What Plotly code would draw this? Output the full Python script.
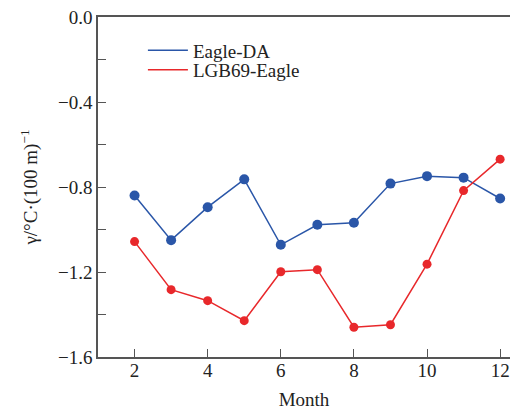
import plotly.graph_objects as go

months = [2, 3, 4, 5, 6, 7, 8, 9, 10, 11, 12]
eagle_da = [-0.84, -1.05, -0.895, -0.764, -1.072, -0.978, -0.968, -0.784, -0.749, -0.756, -0.854]
lgb69_eagle = [-1.057, -1.283, -1.335, -1.429, -1.199, -1.189, -1.46, -1.448, -1.163, -0.817, -0.669]
series_names = ["Eagle-DA", "LGB69-Eagle"]
y_tickvals = [0.0, -0.4, -0.8, -1.2, -1.6]
y_ticktext = ["0.0", "−0.4", "−0.8", "−1.2", "−1.6"]

blue = "#2a56a8"
red = "#e8282b"
axis_col = "#555555"
font_fam = "Liberation Serif"

fig = go.Figure()
for name, vals, col, ms in [(series_names[0], eagle_da, blue, 10), (series_names[1], lgb69_eagle, red, 9)]:
    fig.add_trace(go.Scatter(x=months, y=vals, mode="lines+markers", name=name, showlegend=False,
                             line=dict(color=col, width=1.5), marker=dict(color=col, size=ms)))
for name, col, lg in [(series_names[0], blue, "legend"), (series_names[1], red, "legend2")]:
    fig.add_trace(go.Scatter(x=[None], y=[None], mode="lines", name=name, legend=lg,
                             line=dict(color=col, width=1.5)))

leg_common = dict(x=0.109, xanchor="left", yanchor="top", bgcolor="rgba(0,0,0,0)",
                  font=dict(size=19), itemwidth=40)
fig.update_layout(
    width=510, height=410,
    margin=dict(l=98, r=0, t=17, b=53),
    paper_bgcolor="white", plot_bgcolor="white",
    font=dict(family=font_fam, size=19, color="#222222"),
    showlegend=True,
    legend=dict(y=0.958, **leg_common),
    legend2=dict(y=0.900, **leg_common),
    xaxis=dict(range=[1, 12.27], tickvals=[2, 4, 6, 8, 10, 12], ticks="inside", ticklen=8,
               tickcolor=axis_col, tickwidth=1.2, showline=True, linecolor=axis_col, linewidth=1.5,
               mirror=True, showgrid=False, zeroline=False, ticklabelstandoff=-5,
               title=dict(text="Month", standoff=15, font=dict(size=19))),
    yaxis=dict(range=[-1.6, 0.0], tickvals=y_tickvals, ticktext=y_ticktext,
               ticks="inside", ticklen=8, tickcolor=axis_col, tickwidth=1.2,
               minor=dict(tickmode="linear", tick0=0, dtick=0.2, ticks="inside", ticklen=8,
                          tickcolor=axis_col, tickwidth=1.2, showgrid=False),
               showline=True, linecolor=axis_col, linewidth=1.5, showgrid=False, zeroline=False,
               title=dict(text="γ/°C·(100 m)<sup>−1</sup>", standoff=15, font=dict(size=19))),
)

fig.write_html("out.html")
